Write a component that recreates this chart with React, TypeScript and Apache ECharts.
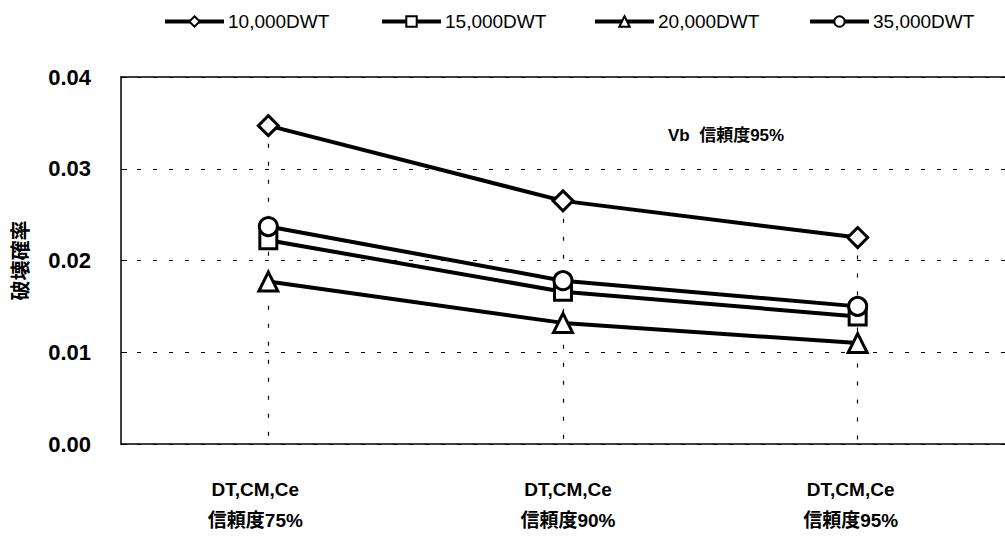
import React, { useEffect, useRef } from "react";
import * as echarts from "echarts";

const categories = ["DT,CM,Ce\n信頼度75%", "DT,CM,Ce\n信頼度90%", "DT,CM,Ce\n信頼度95%"];
const seriesNames = ["10,000DWT", "15,000DWT", "20,000DWT", "35,000DWT"];
const s10000 = [0.0347, 0.0265, 0.0225];
const s15000 = [0.0222, 0.0166, 0.0139];
const s20000 = [0.0177, 0.0132, 0.011];
const s35000 = [0.0237, 0.0178, 0.015];
const symbols = ["diamond", "rect", "triangle", "circle"];
const symbolSizes = [20, 17, 19, 18];
const legendLefts = [158, 375, 588, 803];
const labelPaddings = [
  [0, 26, 0, 0],
  [0, 0, 0, 10],
  [0, 14, 0, 0],
];

const FONT = "'Liberation Sans', 'Noto Sans CJK JP', sans-serif";

export default function App() {
  const ref = useRef<HTMLDivElement>(null);
  useEffect(() => {
    document.body.style.margin = "0";
    const chart = echarts.init(ref.current!, null, { renderer: "svg" });
    const data = [s10000, s15000, s20000, s35000];
    const maxes = categories.map((_, c) => Math.max(...data.map((d) => d[c])));
    chart.setOption({
      animation: false,
      backgroundColor: "#ffffff",
      textStyle: { fontFamily: FONT, color: "#000" },
      legend: seriesNames.map((n, i) => ({
        top: 7,
        left: legendLefts[i],
        itemWidth: 59,
        itemHeight: 13,
        itemGap: 5,
        lineStyle: { color: "#000", width: 4 },
        itemStyle: { color: "#fff", borderColor: "#000", borderWidth: 2 },
        textStyle: { fontSize: 19, fontFamily: FONT, color: "#000", padding: [0, 0, 0, -1] },
        data: [n],
      })),
      grid: { left: 121, top: 77, width: 891, height: 370 },
      xAxis: [
        {
          type: "category",
          data: categories.map((c, i) => ({ value: c, textStyle: { padding: labelPaddings[i] } })),
          boundaryGap: true,
          axisLine: { lineStyle: { color: "#000", width: 1.5 } },
          axisTick: { inside: true, length: 7, lineStyle: { color: "#000" } },
          axisLabel: {
            color: "#000",
            fontSize: 19,
            fontWeight: "bold",
            fontFamily: FONT,
            margin: 30,
            lineHeight: 31,
          },
          splitLine: { show: false },
        },
        {
          type: "category",
          position: "top",
          data: categories,
          axisLine: { show: true, lineStyle: { color: "#000", width: 1.5 } },
          axisTick: { show: false },
          axisLabel: { show: false },
          splitLine: { show: false },
        },
      ],
      yAxis: {
        type: "value",
        min: 0,
        max: 0.04,
        interval: 0.01,
        name: "破壊確率",
        nameLocation: "middle",
        nameGap: 90,
        nameRotate: 90,
        nameTextStyle: { fontSize: 20, fontWeight: "bold", fontFamily: FONT, color: "#000" },
        axisLine: { show: true, lineStyle: { color: "#000", width: 1.5 } },
        axisTick: { show: true, inside: true, length: 6, lineStyle: { color: "#000" } },
        axisLabel: {
          color: "#000",
          fontSize: 22,
          fontWeight: "bold",
          fontFamily: FONT,
          margin: 30,
          formatter: (v: number) => v.toFixed(2),
        },
        splitLine: {
          show: true,
          lineStyle: { color: "#000", type: [4, 12], width: 1.2 },
        },
      },
      graphic: [
        {
          type: "text",
          left: 668,
          top: 127,
          style: {
            text: "Vb  信頼度95%",
            fontSize: 17,
            fontWeight: "bold",
            fontFamily: FONT,
            fill: "#000",
          },
        },
      ],
      series: seriesNames.map((name, i) => ({
        name,
        type: "line",
        data: data[i],
        symbol: symbols[i],
        symbolSize: symbolSizes[i],
        showAllSymbol: true,
        lineStyle: { color: "#000", width: 4 },
        itemStyle: { color: "#fff", borderColor: "#000", borderWidth: 3 },
        z: 3,
        markLine:
          i === 0
            ? {
                silent: true,
                symbol: "none",
                label: { show: false },
                lineStyle: { color: "#000", type: [4, 14], width: 1.2 },
                data: categories.map((_, c) => [
                  { coord: [c, maxes[c]] },
                  { coord: [c, 0] },
                ]),
                z: 1,
              }
            : undefined,
      })),
    });
    return () => chart.dispose();
  }, []);
  return <div ref={ref} style={{ width: 1005, height: 536 }} />;
}
